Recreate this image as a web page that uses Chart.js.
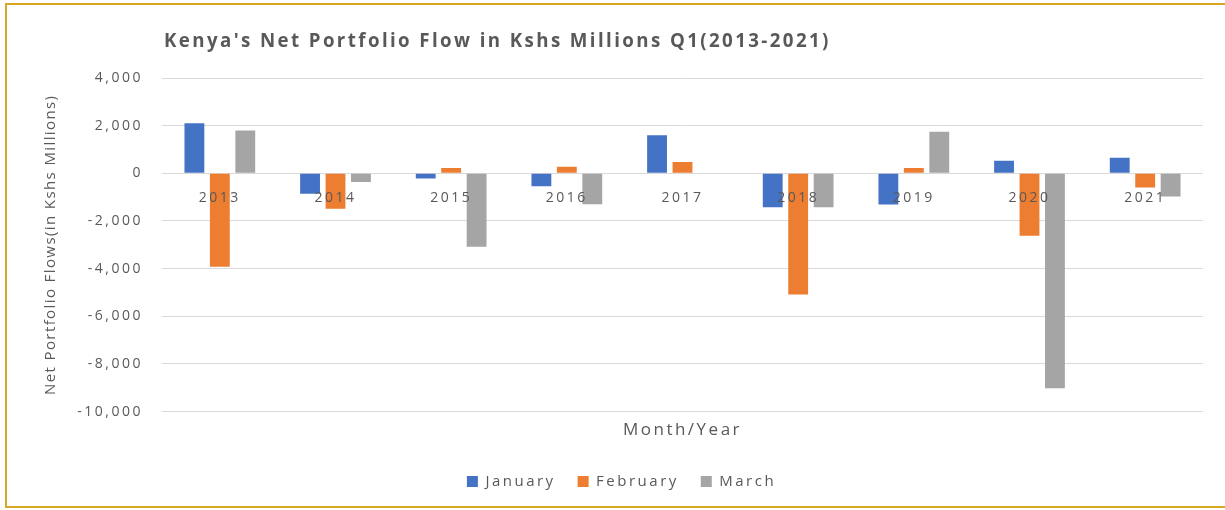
<!DOCTYPE html>
<html>
<head>
<meta charset="utf-8">
<script src="https://cdn.jsdelivr.net/npm/chart.js@4.4.1/dist/chart.umd.min.js"></script>
<style>
  html, body { margin: 0; padding: 0; background: #fff; }
  #wrap { position: relative; width: 1225px; height: 510px; }
  #frame { position: absolute; left: 5px; top: 3px; width: 1225px; height: 505px;
           border-top: 2px solid #D6A824; border-left: 2px solid #D6A824; border-bottom: 2px solid #D6A824; box-sizing: border-box; pointer-events: none; }
  canvas { position: absolute; left: 0; top: 0; }
</style>
</head>
<body>
<div id="wrap">
  <canvas id="c" width="1225" height="510"></canvas>
  <div id="frame"></div>
</div>
<script>
const categories = ['2013', '2014', '2015', '2016', '2017', '2018', '2019', '2020', '2021'];
const january  = [2100, -860, -220, -540, 1600, -1420, -1310, 530, 655];
const february = [-3920, -1490, 220, 280, 470, -5090, 220, -2620, -600];
const march    = [1800, -360, -3080, -1300, 0, -1420, 1740, -9020, -975];
const yMin = -10000, yMax = 4000, yStep = 2000;
const seriesNames = ['January', 'February', 'March'];
const chartTitle = "Kenya's Net Portfolio Flow in Kshs Millions Q1(2013-2021)";
const yTitle = 'Net Portfolio Flows(in Kshs Millions)';
const xTitle = 'Month/Year';

const FONT = "'Open Sans', sans-serif";
const GREY = '#595959';
const LS = '2.5px';
const LS_YTITLE = '1.4px';

const spacing = {
  id: 'spacing',
  afterInit(chart) {
    const ctx = chart.ctx;
    ctx.letterSpacing = LS;
    const orig = ctx.fillText;
    ctx.fillText = function (t, x, y, mw) {
      if (t === yTitle) {
        const prev = this.letterSpacing;
        this.letterSpacing = LS_YTITLE;
        if (mw === undefined) orig.call(this, t, x, y); else orig.call(this, t, x, y, mw);
        this.letterSpacing = prev;
      } else {
        if (mw === undefined) orig.call(this, t, x, y); else orig.call(this, t, x, y, mw);
      }
    };
  },
  beforeUpdate(chart) { chart.ctx.letterSpacing = LS; },
  beforeDraw(chart) { chart.ctx.letterSpacing = LS; }
};

const titlePlugin = {
  id: 'leftTitle',
  afterDraw(chart) {
    const ctx = chart.ctx;
    ctx.save();
    ctx.letterSpacing = '2.4px';
    ctx.font = "bold 18.7px " + FONT;
    ctx.fillStyle = GREY;
    ctx.textAlign = 'left';
    ctx.textBaseline = 'middle';
    ctx.fillText(chartTitle, 164, 42);
    ctx.restore();
  }
};

new Chart(document.getElementById('c'), {
  type: 'bar',
  data: {
    labels: categories,
    datasets: [
      { label: seriesNames[0], data: january,  backgroundColor: '#4472C4' },
      { label: seriesNames[1], data: february, backgroundColor: '#ED7D31' },
      { label: seriesNames[2], data: march,    backgroundColor: '#A5A5A5' }
    ]
  },
  options: {
    responsive: false,
    animation: false,
    devicePixelRatio: 1,
    categoryPercentage: 0.66,
    barPercentage: 0.78,
    layout: { padding: { left: 40, right: 22, top: 78, bottom: 11 } },
    plugins: {
      title: { display: false },
      tooltip: { enabled: false },
      legend: {
        position: 'bottom',
        labels: {
          color: GREY,
          font: { family: FONT, size: 15 },
          boxWidth: 11, boxHeight: 11,
          padding: 22
        }
      }
    },
    scales: {
      x: {
        type: 'category',
        position: { y: 0 },
        grid: { display: false, drawTicks: false },
        border: { display: false },
        ticks: { z: 1, color: GREY, font: { family: FONT, size: 14 }, padding: 16, maxRotation: 0 }
      },
      x2: {
        type: 'category',
        labels: categories,
        position: 'bottom',
        grid: { display: false, drawTicks: false },
        border: { display: false },
        ticks: { display: false },
        title: { display: true, text: xTitle, color: GREY, font: { family: FONT, size: 17 }, padding: { top: 8, bottom: 12 } }
      },
      y: {
        min: yMin, max: yMax,
        ticks: { stepSize: yStep, color: GREY, font: { family: FONT, size: 14 }, padding: 19 },
        grid: { color: '#D9D9D9', lineWidth: 1, drawTicks: false },
        border: { display: false },
        title: { display: true, text: yTitle, color: GREY, font: { family: FONT, size: 15 }, padding: { top: 2, bottom: 0 } },
        afterFit(scale) { scale.width = 122; }
      }
    }
  },
  plugins: [spacing, titlePlugin]
});
</script>
</body>
</html>
